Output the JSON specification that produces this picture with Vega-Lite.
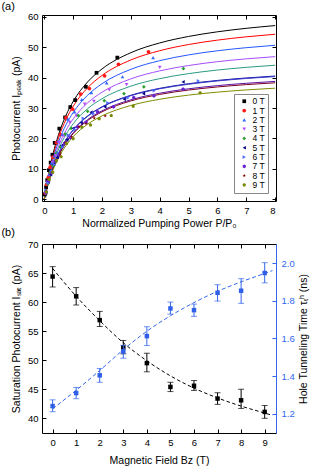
{
  "$schema": "https://vega.github.io/schema/vega-lite/v6.json",
  "padding": {"left": 0, "top": 0, "right": 0, "bottom": 0},
  "config": {
    "font": "Liberation Sans",
    "view": {"stroke": "black", "strokeWidth": 1},
    "axis": {"domain": false, "grid": false, "ticks": true, "tickSize": -4, "tickColor": "black", "labelPadding": 8, "labelFontSize": 9.5, "labelColor": "black", "titleFontSize": 10.5, "titleFontWeight": "normal", "titleColor": "black", "labelFont": "Liberation Sans", "titleFont": "Liberation Sans"},
    "title": {"fontSize": 11, "fontWeight": "normal", "anchor": "start", "frame": "bounds", "font": "Liberation Sans"},
    "legend": {"orient": "bottom-right", "offset": 8, "strokeColor": "#888888", "fillColor": "white", "padding": 3, "labelFontSize": 8.5, "labelFont": "Liberation Sans", "symbolSize": 14, "rowPadding": 0.3, "labelOffset": 4, "symbolStrokeWidth": 0, "symbolOffset": 3, "cornerRadius": 0}
  },
  "resolve": {"legend": {"fill": "independent", "shape": "independent"}},
  "datasets": {
    "curves": [
      {"B":"0 T","P":0,"I":0},{"B":"0 T","P":0.1,"I":5.85},{"B":"0 T","P":0.25,"I":12.86},{"B":"0 T","P":0.5,"I":21.43},{"B":"0 T","P":0.75,"I":27.56},{"B":"0 T","P":1,"I":32.15},{"B":"0 T","P":1.5,"I":38.58},{"B":"0 T","P":2,"I":42.87},{"B":"0 T","P":3,"I":48.23},{"B":"0 T","P":4,"I":51.44},{"B":"0 T","P":5,"I":53.58},{"B":"0 T","P":6,"I":55.11},{"B":"0 T","P":7,"I":56.26},{"B":"0 T","P":8,"I":57.16},
      {"B":"1 T","P":0,"I":0},{"B":"1 T","P":0.1,"I":5.55},{"B":"1 T","P":0.25,"I":12.22},{"B":"1 T","P":0.5,"I":20.37},{"B":"1 T","P":0.75,"I":26.19},{"B":"1 T","P":1,"I":30.55},{"B":"1 T","P":1.5,"I":36.66},{"B":"1 T","P":2,"I":40.73},{"B":"1 T","P":3,"I":45.83},{"B":"1 T","P":4,"I":48.88},{"B":"1 T","P":5,"I":50.92},{"B":"1 T","P":6,"I":52.37},{"B":"1 T","P":7,"I":53.46},{"B":"1 T","P":8,"I":54.31},
      {"B":"2 T","P":0,"I":0},{"B":"2 T","P":0.1,"I":5.18},{"B":"2 T","P":0.25,"I":11.4},{"B":"2 T","P":0.5,"I":19.0},{"B":"2 T","P":0.75,"I":24.43},{"B":"2 T","P":1,"I":28.5},{"B":"2 T","P":1.5,"I":34.2},{"B":"2 T","P":2,"I":38.0},{"B":"2 T","P":3,"I":42.75},{"B":"2 T","P":4,"I":45.6},{"B":"2 T","P":5,"I":47.5},{"B":"2 T","P":6,"I":48.86},{"B":"2 T","P":7,"I":49.88},{"B":"2 T","P":8,"I":50.67},
      {"B":"3 T","P":0,"I":0},{"B":"3 T","P":0.1,"I":4.8},{"B":"3 T","P":0.25,"I":10.56},{"B":"3 T","P":0.5,"I":17.6},{"B":"3 T","P":0.75,"I":22.63},{"B":"3 T","P":1,"I":26.4},{"B":"3 T","P":1.5,"I":31.68},{"B":"3 T","P":2,"I":35.2},{"B":"3 T","P":3,"I":39.6},{"B":"3 T","P":4,"I":42.24},{"B":"3 T","P":5,"I":44.0},{"B":"3 T","P":6,"I":45.26},{"B":"3 T","P":7,"I":46.2},{"B":"3 T","P":8,"I":46.93},
      {"B":"4 T","P":0,"I":0},{"B":"4 T","P":0.1,"I":4.51},{"B":"4 T","P":0.25,"I":9.92},{"B":"4 T","P":0.5,"I":16.53},{"B":"4 T","P":0.75,"I":21.26},{"B":"4 T","P":1,"I":24.8},{"B":"4 T","P":1.5,"I":29.76},{"B":"4 T","P":2,"I":33.07},{"B":"4 T","P":3,"I":37.2},{"B":"4 T","P":4,"I":39.68},{"B":"4 T","P":5,"I":41.33},{"B":"4 T","P":6,"I":42.51},{"B":"4 T","P":7,"I":43.4},{"B":"4 T","P":8,"I":44.09},
      {"B":"5 T","P":0,"I":0},{"B":"5 T","P":0.1,"I":4.15},{"B":"5 T","P":0.25,"I":9.12},{"B":"5 T","P":0.5,"I":15.2},{"B":"5 T","P":0.75,"I":19.54},{"B":"5 T","P":1,"I":22.8},{"B":"5 T","P":1.5,"I":27.36},{"B":"5 T","P":2,"I":30.4},{"B":"5 T","P":3,"I":34.2},{"B":"5 T","P":4,"I":36.48},{"B":"5 T","P":5,"I":38.0},{"B":"5 T","P":6,"I":39.08},{"B":"5 T","P":7,"I":39.9},{"B":"5 T","P":8,"I":40.53},
      {"B":"6 T","P":0,"I":0},{"B":"6 T","P":0.1,"I":4.13},{"B":"6 T","P":0.25,"I":9.08},{"B":"6 T","P":0.5,"I":15.13},{"B":"6 T","P":0.75,"I":19.46},{"B":"6 T","P":1,"I":22.7},{"B":"6 T","P":1.5,"I":27.24},{"B":"6 T","P":2,"I":30.27},{"B":"6 T","P":3,"I":34.05},{"B":"6 T","P":4,"I":36.32},{"B":"6 T","P":5,"I":37.83},{"B":"6 T","P":6,"I":38.91},{"B":"6 T","P":7,"I":39.73},{"B":"6 T","P":8,"I":40.36},
      {"B":"7 T","P":0,"I":0},{"B":"7 T","P":0.1,"I":3.96},{"B":"7 T","P":0.25,"I":8.72},{"B":"7 T","P":0.5,"I":14.53},{"B":"7 T","P":0.75,"I":18.69},{"B":"7 T","P":1,"I":21.8},{"B":"7 T","P":1.5,"I":26.16},{"B":"7 T","P":2,"I":29.07},{"B":"7 T","P":3,"I":32.7},{"B":"7 T","P":4,"I":34.88},{"B":"7 T","P":5,"I":36.33},{"B":"7 T","P":6,"I":37.37},{"B":"7 T","P":7,"I":38.15},{"B":"7 T","P":8,"I":38.76},
      {"B":"8 T","P":0,"I":0},{"B":"8 T","P":0.1,"I":3.92},{"B":"8 T","P":0.25,"I":8.62},{"B":"8 T","P":0.5,"I":14.37},{"B":"8 T","P":0.75,"I":18.47},{"B":"8 T","P":1,"I":21.55},{"B":"8 T","P":1.5,"I":25.86},{"B":"8 T","P":2,"I":28.73},{"B":"8 T","P":3,"I":32.33},{"B":"8 T","P":4,"I":34.48},{"B":"8 T","P":5,"I":35.92},{"B":"8 T","P":6,"I":36.94},{"B":"8 T","P":7,"I":37.71},{"B":"8 T","P":8,"I":38.31},
      {"B":"9 T","P":0,"I":0},{"B":"9 T","P":0.1,"I":3.74},{"B":"9 T","P":0.25,"I":8.22},{"B":"9 T","P":0.5,"I":13.7},{"B":"9 T","P":0.75,"I":17.61},{"B":"9 T","P":1,"I":20.55},{"B":"9 T","P":1.5,"I":24.66},{"B":"9 T","P":2,"I":27.4},{"B":"9 T","P":3,"I":30.83},{"B":"9 T","P":4,"I":32.88},{"B":"9 T","P":5,"I":34.25},{"B":"9 T","P":6,"I":35.23},{"B":"9 T","P":7,"I":35.96},{"B":"9 T","P":8,"I":36.53}
    ],
    "pts": [
      {"B":"0 T","P":0.02,"I":1.5},{"B":"0 T","P":0.06,"I":3.9},{"B":"0 T","P":0.1,"I":6.2},{"B":"0 T","P":0.16,"I":9.5},{"B":"0 T","P":0.22,"I":12.0},{"B":"0 T","P":0.28,"I":14.6},{"B":"0 T","P":0.36,"I":18.5},{"B":"0 T","P":0.52,"I":23.2},{"B":"0 T","P":0.72,"I":26.9},{"B":"0 T","P":0.9,"I":30.3},{"B":"0 T","P":1.07,"I":32.6},{"B":"0 T","P":1.44,"I":37.0},{"B":"0 T","P":1.81,"I":41.6},{"B":"0 T","P":2.53,"I":46.6},
      {"B":"1 T","P":0.03,"I":2.0},{"B":"1 T","P":0.08,"I":4.8},{"B":"1 T","P":0.14,"I":7.2},{"B":"1 T","P":0.2,"I":10.5},{"B":"1 T","P":0.3,"I":13.8},{"B":"1 T","P":0.42,"I":18.6},{"B":"1 T","P":0.55,"I":21.2},{"B":"1 T","P":0.75,"I":26.8},{"B":"1 T","P":0.98,"I":29.6},{"B":"1 T","P":1.26,"I":34.6},{"B":"1 T","P":1.56,"I":36.4},{"B":"1 T","P":2.09,"I":40.6},{"B":"1 T","P":2.57,"I":44.4},{"B":"1 T","P":3.61,"I":48.5},
      {"B":"2 T","P":0.04,"I":2.4},{"B":"2 T","P":0.1,"I":5.6},{"B":"2 T","P":0.17,"I":8.0},{"B":"2 T","P":0.25,"I":11.9},{"B":"2 T","P":0.35,"I":14.2},{"B":"2 T","P":0.48,"I":19.1},{"B":"2 T","P":0.62,"I":21.3},{"B":"2 T","P":0.82,"I":26.3},{"B":"2 T","P":1.05,"I":28.7},{"B":"2 T","P":1.3,"I":32.8},{"B":"2 T","P":1.63,"I":35.1},{"B":"2 T","P":2.16,"I":38.3},{"B":"2 T","P":2.71,"I":40.3},{"B":"2 T","P":3.77,"I":46.6},
      {"B":"3 T","P":0.04,"I":1.8},{"B":"3 T","P":0.11,"I":5.6},{"B":"3 T","P":0.19,"I":8.0},{"B":"3 T","P":0.28,"I":12.1},{"B":"3 T","P":0.39,"I":14.3},{"B":"3 T","P":0.52,"I":18.6},{"B":"3 T","P":0.68,"I":20.8},{"B":"3 T","P":0.88,"I":25.3},{"B":"3 T","P":1.12,"I":27.4},{"B":"3 T","P":1.4,"I":31.3},{"B":"3 T","P":1.72,"I":32.2},{"B":"3 T","P":2.25,"I":36.0},{"B":"3 T","P":2.85,"I":37.7},{"B":"3 T","P":4.0,"I":43.4},
      {"B":"4 T","P":0.05,"I":2.6},{"B":"4 T","P":0.12,"I":5.0},{"B":"4 T","P":0.2,"I":8.7},{"B":"4 T","P":0.3,"I":11.0},{"B":"4 T","P":0.42,"I":15.2},{"B":"4 T","P":0.56,"I":17.2},{"B":"4 T","P":0.72,"I":21.4},{"B":"4 T","P":0.93,"I":23.3},{"B":"4 T","P":1.18,"I":27.5},{"B":"4 T","P":1.5,"I":28.9},{"B":"4 T","P":2.08,"I":32.4},{"B":"4 T","P":2.76,"I":34.7},{"B":"4 T","P":3.45,"I":37.0},{"B":"4 T","P":4.82,"I":43.0},
      {"B":"5 T","P":0.05,"I":2.0},{"B":"5 T","P":0.13,"I":5.6},{"B":"5 T","P":0.22,"I":8.0},{"B":"5 T","P":0.32,"I":11.5},{"B":"5 T","P":0.45,"I":13.7},{"B":"5 T","P":0.6,"I":17.6},{"B":"5 T","P":0.78,"I":19.5},{"B":"5 T","P":1.0,"I":23.3},{"B":"5 T","P":1.28,"I":25.1},{"B":"5 T","P":1.62,"I":28.6},{"B":"5 T","P":2.1,"I":30.4},{"B":"5 T","P":2.77,"I":32.9},{"B":"5 T","P":3.44,"I":34.7},{"B":"5 T","P":4.81,"I":38.6},
      {"B":"6 T","P":0.06,"I":2.9},{"B":"6 T","P":0.14,"I":5.3},{"B":"6 T","P":0.24,"I":9.2},{"B":"6 T","P":0.35,"I":11.3},{"B":"6 T","P":0.48,"I":15.2},{"B":"6 T","P":0.64,"I":17.2},{"B":"6 T","P":0.83,"I":21.1},{"B":"6 T","P":1.06,"I":22.9},{"B":"6 T","P":1.35,"I":26.6},{"B":"6 T","P":1.7,"I":28.1},{"B":"6 T","P":2.2,"I":31.7},{"B":"6 T","P":2.9,"I":33.3},{"B":"6 T","P":3.81,"I":35.7},{"B":"6 T","P":5.34,"I":38.9},
      {"B":"7 T","P":0.06,"I":2.2},{"B":"7 T","P":0.15,"I":6.0},{"B":"7 T","P":0.26,"I":8.6},{"B":"7 T","P":0.38,"I":12.4},{"B":"7 T","P":0.52,"I":14.5},{"B":"7 T","P":0.7,"I":18.3},{"B":"7 T","P":0.9,"I":20.2},{"B":"7 T","P":1.15,"I":23.8},{"B":"7 T","P":1.45,"I":25.3},{"B":"7 T","P":1.85,"I":28.7},{"B":"7 T","P":2.4,"I":30.4},{"B":"7 T","P":3.1,"I":33.4},{"B":"7 T","P":3.8,"I":34.0},{"B":"7 T","P":4.81,"I":36.2},
      {"B":"8 T","P":0.07,"I":2.5},{"B":"8 T","P":0.16,"I":6.3},{"B":"8 T","P":0.27,"I":8.8},{"B":"8 T","P":0.4,"I":12.7},{"B":"8 T","P":0.55,"I":14.8},{"B":"8 T","P":0.73,"I":18.6},{"B":"8 T","P":0.95,"I":20.5},{"B":"8 T","P":1.2,"I":23.9},{"B":"8 T","P":1.45,"I":24.9},{"B":"8 T","P":1.73,"I":26.7},{"B":"8 T","P":2.11,"I":27.4},
      {"B":"9 T","P":0.07,"I":2.3},{"B":"9 T","P":0.17,"I":6.4},{"B":"9 T","P":0.29,"I":8.8},{"B":"9 T","P":0.42,"I":12.6},{"B":"9 T","P":0.58,"I":13.9},{"B":"9 T","P":0.77,"I":18.3},{"B":"9 T","P":1.0,"I":19.9},{"B":"9 T","P":1.3,"I":23.7},{"B":"9 T","P":1.6,"I":24.4},{"B":"9 T","P":1.9,"I":26.5},{"B":"9 T","P":2.32,"I":27.5},{"B":"9 T","P":3.08,"I":30.6},{"B":"9 T","P":5.4,"I":35.0}
    ],
    "bpts": [
      {"B":0,"I":64.4,"Ilo":62.6,"Ihi":66.1,"t":1.241,"tlo":1.211,"thi":1.274},
      {"B":1,"I":61.0,"Ilo":59.5,"Ihi":62.5,"t":1.310,"tlo":1.280,"thi":1.340},
      {"B":2,"I":56.9,"Ilo":55.8,"Ihi":58.4,"t":1.404,"tlo":1.367,"thi":1.440},
      {"B":3,"I":52.2,"Ilo":51.1,"Ihi":53.4,"t":1.531,"tlo":1.495,"thi":1.563},
      {"B":4,"I":49.5,"Ilo":48.0,"Ihi":51.2,"t":1.612,"tlo":1.562,"thi":1.662},
      {"B":5,"I":45.4,"Ilo":44.6,"Ihi":46.2,"t":1.759,"tlo":1.729,"thi":1.793},
      {"B":6,"I":45.6,"Ilo":44.8,"Ihi":46.5,"t":1.750,"tlo":1.717,"thi":1.782},
      {"B":7,"I":43.4,"Ilo":42.4,"Ihi":44.4,"t":1.842,"tlo":1.798,"thi":1.885},
      {"B":8,"I":43.1,"Ilo":41.7,"Ihi":45.0,"t":1.853,"tlo":1.786,"thi":1.917},
      {"B":9,"I":41.1,"Ilo":40.0,"Ihi":42.2,"t":1.947,"tlo":1.895,"thi":2.002}
    ],
    "bfit": [
      {"B":0,"I":65.8,"t":1.226},{"B":1,"I":61.0,"t":1.325},{"B":2,"I":56.8,"t":1.430},{"B":3,"I":53.0,"t":1.540},{"B":4,"I":49.9,"t":1.638},{"B":5,"I":47.3,"t":1.720},{"B":6,"I":45.2,"t":1.790},{"B":7,"I":43.5,"t":1.850},{"B":8,"I":42.1,"t":1.900},{"B":9,"I":40.9,"t":1.945},{"B":9.33,"I":40.5,"t":1.960}
    ]
  },
  "vconcat": [
    {
      "width": 234, "height": 186,
      "title": {"text": "(a)", "dx": -10, "offset": 0},
      "layer": [
        {
          "data": {"name": "curves"},
          "mark": {"type": "line", "interpolate": "monotone", "strokeWidth": 1},
          "encoding": {
            "x": {"field": "P", "type": "quantitative", "scale": {"domain": [-0.08, 8.03], "nice": false, "zero": false}, "axis": {"orient": "bottom", "values": [0,1,2,3,4,5,6,7,8], "title": "Normalized Pumping Power  P/P₀", "titlePadding": 4}},
            "y": {"field": "I", "type": "quantitative", "scale": {"domain": [-0.65, 60.65], "nice": false, "zero": false}, "axis": {"orient": "left", "values": [0,10,20,30,40,50,60], "title": "Photocurrent  Iₚₑₐₖ (pA)", "titlePadding": 6}},
            "stroke": {"field": "B", "type": "nominal", "scale": {"domain": ["0 T","1 T","2 T","3 T","4 T","5 T","6 T","7 T","8 T","9 T"], "range": ["#000000","#ff0000","#2457ff","#a64dff","#2a9a82","#1010a0","#3a3acc","#5a10a8","#7a0022","#7f8c00"]}, "legend": null}
          }
        },
        {
          "data": {"name": "pts"},
          "mark": {"type": "point", "filled": true, "size": 14, "opacity": 1, "strokeWidth": 0},
          "encoding": {
            "x": {"field": "P", "type": "quantitative", "scale": {"domain": [-0.08, 8.03], "nice": false, "zero": false}, "axis": {"orient": "top", "values": [0,1,2,3,4,5,6,7,8], "labels": false, "title": null}},
            "y": {"field": "I", "type": "quantitative", "scale": {"domain": [-0.65, 60.65], "nice": false, "zero": false}, "axis": {"orient": "right", "values": [0,10,20,30,40,50,60], "labels": false, "title": null}},
            "fill": {"field": "B", "type": "nominal", "scale": {"domain": ["0 T","1 T","2 T","3 T","4 T","5 T","6 T","7 T","8 T","9 T"], "range": ["#000000","#ff1a1a","#3366ff","#b34dff","#2ca02c","#000088","#4d6bff","#6a1fd1","#8b0000","#7a8a00"]}, "legend": {"title": null}},
            "shape": {"field": "B", "type": "nominal", "scale": {"domain": ["0 T","1 T","2 T","3 T","4 T","5 T","6 T","7 T","8 T","9 T"], "range": ["square","circle","triangle-up","triangle-down","diamond","triangle-left","triangle-right","M0,-1L0.87,-0.5L0.87,0.5L0,1L-0.87,0.5L-0.87,-0.5Z","M0,-1L0.22,-0.31L0.95,-0.31L0.36,0.12L0.59,0.81L0,0.38L-0.59,0.81L-0.36,0.12L-0.95,-0.31L-0.22,-0.31Z","M0,-1L0.95,-0.31L0.59,0.81L-0.59,0.81L-0.95,-0.31Z"]}, "legend": {"title": null}}
          }
        }
      ],
      "resolve": {"axis": {"x": "independent", "y": "independent"}}
    },
    {
      "width": 234, "height": 189,
      "title": {"text": "(b)", "dx": -10, "offset": 1},
      "layer": [
        {
          "data": {"name": "bfit"},
          "mark": {"type": "line", "interpolate": "monotone", "strokeWidth": 1, "strokeDash": [3.5, 2.5], "color": "black"},
          "encoding": {
            "x": {"field": "B", "type": "quantitative", "scale": {"domain": [-0.45, 9.48], "nice": false, "zero": false}, "axis": {"orient": "bottom", "values": [0,1,2,3,4,5,6,7,8,9], "title": "Magnetic Field Bz (T)", "titlePadding": 9}},
            "y": {"field": "I", "type": "quantitative", "scale": {"domain": [37.47, 70], "nice": false, "zero": false}, "axis": {"orient": "left", "values": [40,45,50,55,60,65,70], "title": "Saturation Photocurrent  Iₛₐₜ (pA)", "titlePadding": 6}}
          }
        },
        {
          "data": {"name": "bpts"},
          "mark": {"type": "rule", "color": "black", "strokeWidth": 1},
          "encoding": {
            "x": {"field": "B", "type": "quantitative", "scale": {"domain": [-0.45, 9.48], "nice": false, "zero": false}, "axis": null},
            "y": {"field": "Ilo", "type": "quantitative", "scale": {"domain": [37.47, 70], "nice": false, "zero": false}, "axis": null},
            "y2": {"field": "Ihi"}
          }
        },
        {
          "data": {"name": "bpts"},
          "mark": {"type": "tick", "orient": "horizontal", "size": 6, "thickness": 1, "color": "black"},
          "encoding": {
            "x": {"field": "B", "type": "quantitative", "scale": {"domain": [-0.45, 9.48], "nice": false, "zero": false}, "axis": null},
            "y": {"field": "Ilo", "type": "quantitative", "scale": {"domain": [37.47, 70], "nice": false, "zero": false}, "axis": null}
          }
        },
        {
          "data": {"name": "bpts"},
          "mark": {"type": "tick", "orient": "horizontal", "size": 6, "thickness": 1, "color": "black"},
          "encoding": {
            "x": {"field": "B", "type": "quantitative", "scale": {"domain": [-0.45, 9.48], "nice": false, "zero": false}, "axis": null},
            "y": {"field": "Ihi", "type": "quantitative", "scale": {"domain": [37.47, 70], "nice": false, "zero": false}, "axis": null}
          }
        },
        {
          "data": {"name": "bpts"},
          "mark": {"type": "square", "size": 20, "color": "black", "opacity": 1},
          "encoding": {
            "x": {"field": "B", "type": "quantitative", "scale": {"domain": [-0.45, 9.48], "nice": false, "zero": false}, "axis": {"orient": "top", "values": [0,1,2,3,4,5,6,7,8,9], "labels": false, "title": null}},
            "y": {"field": "I", "type": "quantitative", "scale": {"domain": [37.47, 70], "nice": false, "zero": false}, "axis": null}
          }
        },
        {
          "data": {"name": "bfit"},
          "mark": {"type": "line", "interpolate": "monotone", "strokeWidth": 1, "strokeDash": [4, 2.5], "color": "#3366ee"},
          "encoding": {
            "x": {"field": "B", "type": "quantitative", "scale": {"domain": [-0.45, 9.48], "nice": false, "zero": false}, "axis": null},
            "y": {"field": "t", "type": "quantitative", "scale": {"domain": [1.098, 2.101], "nice": false, "zero": false}, "axis": {"orient": "right", "values": [1.2,1.4,1.6,1.8,2.0], "format": ".1f", "title": "Hole Tunneling Time τₜʰ (ns)", "titleAngle": 270, "titleBaseline": "top", "titlePadding": 4, "domain": true, "domainColor": "#3366ee", "tickColor": "#3366ee", "labelColor": "#3366ee", "labelPadding": 9}}
          }
        },
        {
          "data": {"name": "bpts"},
          "mark": {"type": "rule", "color": "#3366ee", "strokeWidth": 1},
          "encoding": {
            "x": {"field": "B", "type": "quantitative", "scale": {"domain": [-0.45, 9.48], "nice": false, "zero": false}, "axis": null},
            "y": {"field": "tlo", "type": "quantitative", "scale": {"domain": [1.098, 2.101], "nice": false, "zero": false}, "axis": null},
            "y2": {"field": "thi"}
          }
        },
        {
          "data": {"name": "bpts"},
          "mark": {"type": "tick", "orient": "horizontal", "size": 6, "thickness": 1, "color": "#3366ee"},
          "encoding": {
            "x": {"field": "B", "type": "quantitative", "scale": {"domain": [-0.45, 9.48], "nice": false, "zero": false}, "axis": null},
            "y": {"field": "tlo", "type": "quantitative", "scale": {"domain": [1.098, 2.101], "nice": false, "zero": false}, "axis": null}
          }
        },
        {
          "data": {"name": "bpts"},
          "mark": {"type": "tick", "orient": "horizontal", "size": 6, "thickness": 1, "color": "#3366ee"},
          "encoding": {
            "x": {"field": "B", "type": "quantitative", "scale": {"domain": [-0.45, 9.48], "nice": false, "zero": false}, "axis": null},
            "y": {"field": "thi", "type": "quantitative", "scale": {"domain": [1.098, 2.101], "nice": false, "zero": false}, "axis": null}
          }
        },
        {
          "data": {"name": "bpts"},
          "mark": {"type": "square", "size": 20, "color": "#2f5fe8", "opacity": 1},
          "encoding": {
            "x": {"field": "B", "type": "quantitative", "scale": {"domain": [-0.45, 9.48], "nice": false, "zero": false}, "axis": null},
            "y": {"field": "t", "type": "quantitative", "scale": {"domain": [1.098, 2.101], "nice": false, "zero": false}, "axis": null}
          }
        }
      ],
      "resolve": {"scale": {"y": "independent"}, "axis": {"x": "independent", "y": "independent"}}
    }
  ],
  "spacing": -4
}
